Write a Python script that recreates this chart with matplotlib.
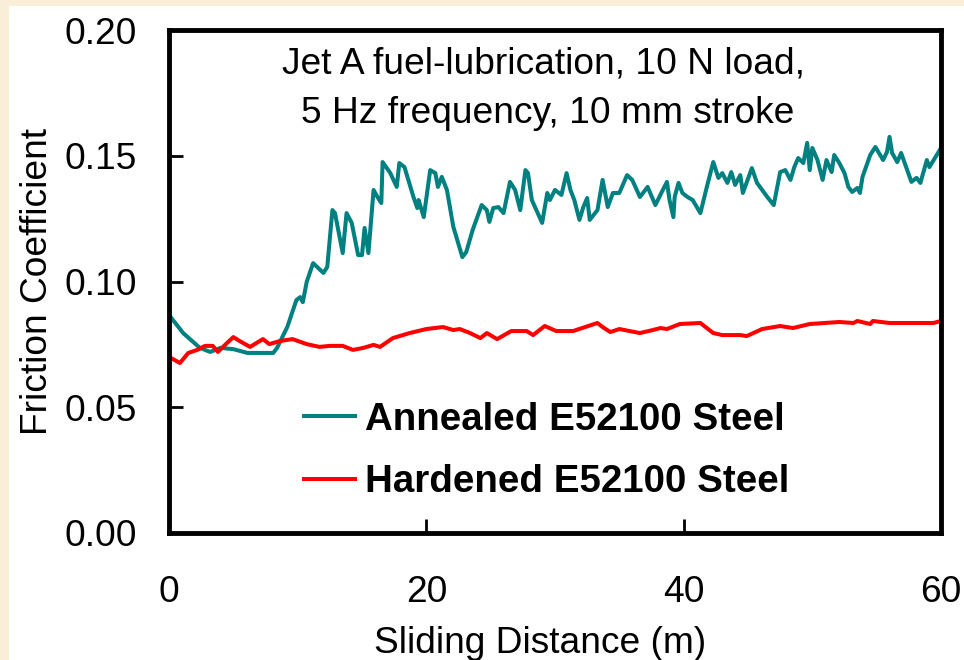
import matplotlib.pyplot as plt
from matplotlib.patches import Rectangle

plt.rcParams['font.family'] = ['Liberation Sans', 'DejaVu Sans']

# Annealed E52100 steel (distance m, friction coefficient)
annealed_d = [0, 1.1, 2.4, 3.2, 4.0, 5.0, 6.1, 8.1, 8.4, 9.2, 9.9, 10.2, 10.4, 10.7,
              11.2, 12.0, 12.3, 12.7, 12.9, 13.3, 13.5, 13.8, 14.2, 14.7, 15.0, 15.2,
              15.5, 15.9, 16.2, 16.5, 16.6, 17.2, 17.7, 17.9, 18.3, 19.0, 19.3, 19.4,
              19.8, 20.3, 20.7, 20.9, 21.2, 21.6, 22.1, 22.8, 23.1, 23.6, 24.3, 24.7,
              24.9, 25.2, 25.6, 26.0, 26.5, 26.9, 27.3, 27.7, 27.9, 28.2, 29.0, 29.4,
              29.6, 30.0, 30.5, 30.9, 31.2, 31.5, 31.9, 32.2, 32.5, 32.7, 33.3, 33.7,
              34.1, 34.5, 35.0, 35.6, 36.0, 36.6, 37.2, 37.8, 38.3, 38.7, 38.9, 39.2,
              39.3, 39.6, 39.9, 40.3, 40.7, 41.3, 41.8, 42.3, 42.7, 43.0, 43.4, 43.7,
              44.0, 44.4, 44.6, 45.3, 45.7, 46.1, 46.5, 47.0, 47.5, 47.9, 48.3, 48.6,
              48.9, 49.3, 49.6, 49.8, 50.0, 50.4, 50.8, 51.1, 51.5, 51.7, 52.1, 52.5,
              52.8, 53.1, 53.5, 53.7, 53.9, 54.5, 54.9, 55.5, 55.8, 56.0, 56.2, 56.6,
              56.9, 57.7, 58.1, 58.4, 58.9, 59.1, 60.0]
annealed_mu = [0.0867, 0.0795, 0.0736, 0.0720, 0.0736, 0.0731, 0.0716, 0.0716, 0.0736,
               0.0820, 0.0926, 0.0938, 0.0918, 0.0998, 0.1073, 0.1034, 0.1058, 0.1284,
               0.1272, 0.1165, 0.1113, 0.1272, 0.1233, 0.1105, 0.1105, 0.1213, 0.1113,
               0.1364, 0.1336, 0.1312, 0.1475, 0.1431, 0.1376, 0.1471, 0.1455, 0.1336,
               0.1292, 0.1324, 0.1256, 0.1443, 0.1431, 0.1376, 0.1416, 0.1364, 0.1217,
               0.1097, 0.1117, 0.1205, 0.1304, 0.1284, 0.1237, 0.1292, 0.1296, 0.1272,
               0.1396, 0.1364, 0.1284, 0.1443, 0.1431, 0.1324, 0.1233, 0.1352, 0.1324,
               0.1364, 0.1344, 0.1431, 0.1364, 0.1324, 0.1245, 0.1296, 0.1332, 0.1245,
               0.1284, 0.1404, 0.1296, 0.1352, 0.1352, 0.1423, 0.1404, 0.1336, 0.1376,
               0.1304, 0.1356, 0.1396, 0.1324, 0.1256, 0.1336, 0.1392, 0.1352, 0.1336,
               0.1324, 0.1272, 0.1376, 0.1475, 0.1412, 0.1431, 0.1392, 0.1435, 0.1384,
               0.1423, 0.1352, 0.1451, 0.1392, 0.1364, 0.1336, 0.1304, 0.1435, 0.1443,
               0.1404, 0.1455, 0.1491, 0.1471, 0.1551, 0.1443, 0.1531, 0.1483, 0.1404,
               0.1483, 0.1435, 0.1503, 0.1471, 0.1431, 0.1376, 0.1356, 0.1372, 0.1352,
               0.1416, 0.1503, 0.1535, 0.1483, 0.1515, 0.1575, 0.1511, 0.1475, 0.1511,
               0.1396, 0.1412, 0.1392, 0.1483, 0.1455, 0.1531]

# Hardened E52100 steel
hardened_d = [0, 0.85, 1.5, 2.2, 2.8, 3.4, 3.8, 4.5, 5.0, 5.5, 6.3, 7.3, 7.8, 8.6, 9.6,
              10.7, 11.7, 12.5, 13.5, 14.3, 15.1, 15.9, 16.4, 17.4, 18.7, 20.0, 21.3,
              22.1, 22.6, 23.4, 24.2, 24.7, 25.5, 26.6, 27.8, 28.3, 29.2, 30.1, 31.4,
              33.3, 33.7, 34.3, 35.0, 35.8, 36.6, 37.6, 38.2, 38.7, 39.7, 41.3, 41.8,
              42.3, 43.0, 44.4, 44.9, 46.1, 47.5, 48.5, 49.8, 52.1, 53.2, 53.5, 54.5,
              54.7, 56.0, 59.4, 60.0]
hardened_mu = [0.0700, 0.0676, 0.0716, 0.0728, 0.0744, 0.0744, 0.0720, 0.0755, 0.0779,
               0.0763, 0.0740, 0.0771, 0.0751, 0.0763, 0.0771, 0.0751, 0.0740, 0.0744,
               0.0744, 0.0728, 0.0736, 0.0748, 0.0740, 0.0775, 0.0795, 0.0811, 0.0819,
               0.0807, 0.0811, 0.0795, 0.0775, 0.0795, 0.0771, 0.0803, 0.0803, 0.0787,
               0.0823, 0.0803, 0.0803, 0.0835, 0.0819, 0.0799, 0.0811, 0.0803, 0.0795,
               0.0807, 0.0815, 0.0811, 0.0831, 0.0835, 0.0815, 0.0795, 0.0787, 0.0787,
               0.0783, 0.0811, 0.0823, 0.0815, 0.0831, 0.0839, 0.0835, 0.0843, 0.0831,
               0.0843, 0.0835, 0.0835, 0.0843]

x_ticks = [0, 20, 40, 60]
y_ticks = [0.00, 0.05, 0.10, 0.15, 0.20]

fs = 26.7

fig = plt.figure(figsize=(9.64, 6.6), dpi=100, facecolor='#FBEED8')
# white panel on the cream slide background
fig.patches.append(Rectangle((9 / 964, 0), 1, 1 - 6 / 660, transform=fig.transFigure,
                             facecolor='white', edgecolor='none', zorder=-10))

ax = fig.add_axes([169 / 964, 1 - 533 / 660, 772 / 964, 503 / 660])
ax.plot(annealed_d, annealed_mu, color='#008080', lw=2.9, label='Annealed E52100 Steel')
ax.plot(hardened_d, hardened_mu, color='#FF0000', lw=2.9, label='Hardened E52100 Steel')

ax.set_xlim(0, 60)
ax.set_ylim(0, 0.2)
ax.set_xticks(x_ticks)
ax.set_yticks(y_ticks)
ax.set_yticklabels([f'{v:.2f}' for v in y_ticks])
ax.tick_params(direction='in', length=10, width=2, labelsize=fs)
ax.tick_params(axis='y', pad=23)
ax.tick_params(axis='x', pad=30)
for s in ax.spines.values():
    s.set_linewidth(3.5)

ax.set_xlabel('Sliding Distance (m)', fontsize=fs)
ax.xaxis.set_label_coords(0.4806, -0.184)
ax.set_ylabel('Friction Coefficient', fontsize=fs, labelpad=7)

# test conditions, two centred lines
ax.text(0.485, 0.9145, 'Jet A fuel-lubrication, 10 N load,', transform=ax.transAxes,
        ha='center', va='baseline', fontsize=fs)
ax.text(0.490, 0.8151, '5 Hz frequency, 10 mm stroke', transform=ax.transAxes,
        ha='center', va='baseline', fontsize=fs)

ax.legend(loc='center left', bbox_to_anchor=(0.1749, 0.163), frameon=False,
          prop={'size': 27.7, 'weight': 'bold'}, handlelength=1.32,
          handletextpad=0.26, labelspacing=0.68, borderpad=0, borderaxespad=0)

fig.savefig('out.png', dpi=100, facecolor=fig.get_facecolor())
